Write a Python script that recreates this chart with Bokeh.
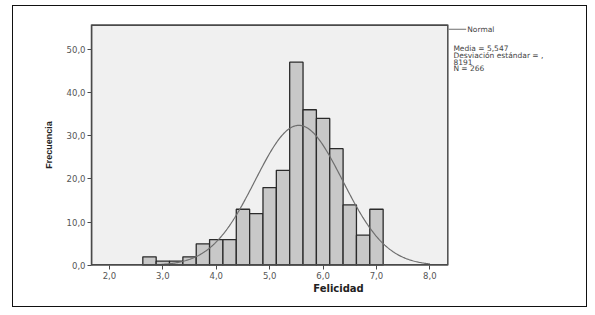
import numpy as np
from bokeh.plotting import figure
from bokeh.models import Range1d, FixedTicker
from bokeh.core.properties import value
from bokeh.embed import file_html
from bokeh.resources import INLINE

# ---- data ----
bin_centers = [2.75, 3.0, 3.25, 3.5, 3.75, 4.0, 4.25, 4.5, 4.75, 5.0,
               5.25, 5.5, 5.75, 6.0, 6.25, 6.5, 6.75, 7.0]
counts = [2, 1, 1, 2, 5, 6, 6, 13, 12, 18, 22, 47, 36, 34, 27, 14, 7, 13]
bin_width = 0.25
mean_val = 5.547
sd_val = 0.8191
n_val = 266
x_ticks = [2, 3, 4, 5, 6, 7, 8]
x_tick_labels = ["2,0", "3,0", "4,0", "5,0", "6,0", "7,0", "8,0"]
y_ticks = [0, 10, 20, 30, 40, 50]
y_tick_labels = ["0,0", "10,0", "20,0", "30,0", "40,0", "50,0"]
stat_lines = ["Media = 5,547", "Desviación estándar = ,", "8191", "N = 266"]
legend_label = "Normal"

# panel limits of the SPSS chart area (data units)
X0, X1 = 1.664, 8.336
Y1 = 55.7

FONT = "DejaVu Sans"
FRAME = "#4a4a4a"

p = figure(width=575, height=302, output_backend="svg", toolbar_location=None,
           x_range=Range1d(X0, 10.914), y_range=Range1d(0, Y1),
           min_border_left=78, min_border_right=3, min_border_top=18,
           min_border_bottom=43, margin=(5, 0, 0, 12),
           background_fill_color="white", border_fill_color="white",
           styles={"border": "1px solid #111111"})
p.outline_line_color = None
p.grid.visible = False

# grey chart panel
p.quad(left=[X0], right=[X1], bottom=[0], top=[Y1],
       fill_color="#f0f0f0", line_color=FRAME, line_width=1.5)

# histogram bars
p.vbar(x=bin_centers, top=counts, width=bin_width, bottom=0,
       fill_color="#c8c8c8", line_color="#2b2b2b", line_width=1.3)

# fitted normal curve from the stated mean, sd and N
xs = np.linspace(2.625, 8.0, 300)
ys = n_val * bin_width * np.exp(-0.5 * ((xs - mean_val) / sd_val) ** 2) / (sd_val * np.sqrt(2 * np.pi))
p.line(xs, ys, line_color="#6e6e6e", line_width=1.2)

# bottom and top edges of the panel (half clipped by the frame, so doubled)
p.segment(x0=[X0, X0], y0=[0, Y1], x1=[X1, X1], y1=[0, Y1], line_color=FRAME, line_width=3)

# axes
for ax in (p.xaxis, p.yaxis):
    ax.axis_line_color = FRAME
    ax.axis_line_width = 1.5
    ax.major_tick_line_color = FRAME
    ax.major_tick_in = 0
    ax.major_tick_out = 4
    ax.minor_tick_line_color = None
    ax.major_label_text_font = FONT
    ax.major_label_text_font_size = "8.5px"
    ax.major_label_text_color = "#555555"
    ax.axis_label_text_font_style = "bold"
    ax.axis_label_text_color = "#222222"

p.xaxis.axis_line_color = None
p.xaxis.ticker = FixedTicker(ticks=x_ticks)
p.xaxis.major_label_overrides = dict(zip(x_ticks, x_tick_labels))
p.xaxis.major_label_standoff = 2
p.xaxis.axis_label = "Felicidad"
p.xaxis.axis_label_text_font = FONT
p.xaxis.axis_label_text_font_size = "10px"
p.xaxis.axis_label_standoff = 1

p.yaxis.ticker = FixedTicker(ticks=y_ticks)
p.yaxis.major_label_overrides = dict(zip(y_ticks, y_tick_labels))
p.yaxis.major_label_standoff = 2
p.yaxis.axis_label = "Frecuencia"
p.yaxis.axis_label_text_font = "Liberation Sans"
p.yaxis.axis_label_text_font_size = "9px"
p.yaxis.axis_label_standoff = 10

# legend entry and statistics, right of the panel
p.segment(x0=[8.35], y0=[54.6], x1=[8.68], y1=[54.6], line_color="#6e6e6e", line_width=1)
p.text(x=[8.70], y=[54.6], text=[legend_label], text_font=value(FONT),
       text_font_size="7.5px", text_color="#444444", text_baseline="middle")
stat_y = [50.1, 48.6, 47.1, 45.6]
p.text(x=[8.44] * len(stat_lines), y=stat_y, text=stat_lines, text_font=value(FONT),
       text_font_size="7.5px", text_color="#444444", text_baseline="middle")

open("out.html", "w").write(file_html(p, INLINE))
